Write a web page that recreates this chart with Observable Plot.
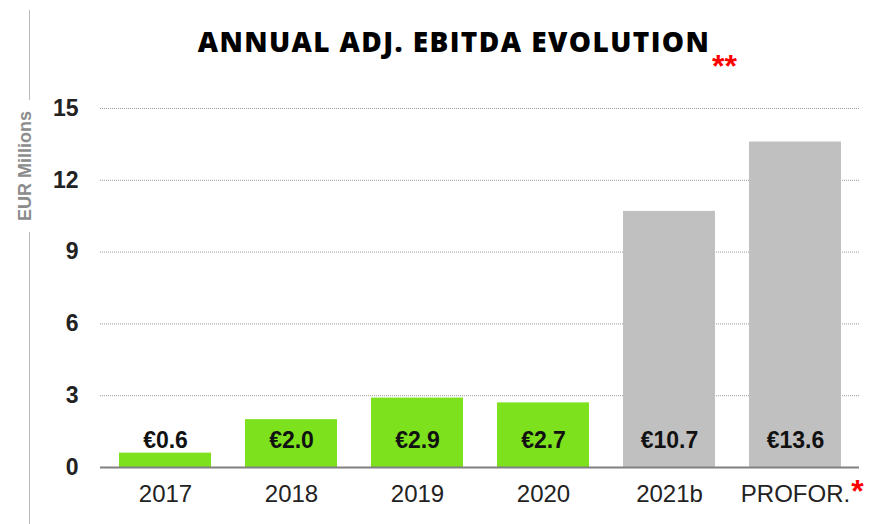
<!DOCTYPE html>
<html>
<head>
<meta charset="utf-8">
<script src="https://cdn.jsdelivr.net/npm/d3@7"></script>
<script src="https://cdn.jsdelivr.net/npm/@observablehq/plot@0.6"></script>
<style>
  html, body { margin: 0; padding: 0; background: #fff; }
  #wrap { position: relative; width: 880px; height: 524px; overflow: hidden; }
  #title { position: absolute; left: 0; width: 908px; top: 22px; text-align: center;
    font-family: "Open Sans", sans-serif; font-weight: 800; font-size: 28px; color: #000; letter-spacing: 1.4px; }
  #stars { position: absolute; left: 712px; top: 48px; color: #ff0000; font-family: "Liberation Sans", Arial, sans-serif;
    font-weight: bold; font-size: 32px; letter-spacing: 0px; }
  .vline { position: absolute; left: 29px; width: 1px; background: #bbb; }
  #ylab { position: absolute; left: 25px; top: 166px; transform: translate(-50%, -50%) rotate(-90deg);
    font-family: "Liberation Sans", Arial, sans-serif; font-weight: bold; font-size: 18px; color: #8c8c8c; white-space: nowrap; }
</style>
</head>
<body>
<div id="wrap">
  <div id="chart"></div>
  <div id="title">ANNUAL ADJ. EBITDA EVOLUTION</div>
  <div id="stars">**</div>
  <div class="vline" style="top:10px;height:90px"></div>
  <div class="vline" style="top:232px;height:292px"></div>
  <div id="ylab">EUR Millions</div>
</div>
<script>
const categories = ["2017", "2018", "2019", "2020", "2021b", "PROFOR."];
const values = [0.6, 2.0, 2.9, 2.7, 10.7, 13.6];
const kinds = ["actual", "actual", "actual", "actual", "budget", "proforma"];
const labels = ["€0.6", "€2.0", "€2.9", "€2.7", "€10.7", "€13.6"];
const yTicks = [0, 3, 6, 9, 12, 15];

const data = categories.map((c, i) => ({ cat: c, value: values[i], kind: kinds[i], label: labels[i] }));

const font = '"Liberation Sans", Arial, sans-serif';

const chart = Plot.plot({
  width: 880,
  height: 524,
  marginLeft: 100,
  marginRight: 21,
  marginTop: 108,
  marginBottom: 57,
  style: { fontFamily: font, background: "transparent" },
  x: { domain: categories, paddingInner: 0.27, paddingOuter: 0.135, label: null },
  y: { domain: [0, 15], ticks: yTicks, label: null },
  color: { domain: ["actual", "budget", "proforma"], range: ["#7de21d", "#c0c0c0", "#c0c0c0"] },
  marks: [
    Plot.ruleY(yTicks.filter(d => d > 0), { stroke: "#9a9a9a", strokeWidth: 1, strokeDasharray: "1,1" }),
    Plot.barY(data, { x: "cat", y: "value", fill: "kind" }),
    Plot.ruleY([0], { stroke: "#808080", strokeWidth: 2 }),
    Plot.text(data, { x: "cat", y: 0, dy: -27, text: "label", fontWeight: "bold", fontSize: 23, fill: "#111" }),
    Plot.axisY({ ticks: yTicks, tickSize: 0, tickPadding: 22, fontSize: 23, fontWeight: "bold", fill: "#222", label: null }),
    Plot.axisX({ tickSize: 0, tickPadding: 17, fontSize: 24, fill: "#222", label: null }),
    Plot.text(["PROFOR."], { x: d => d, y: 0, text: () => "*", fill: "#ff0000", fontWeight: "bold", fontSize: 32, dx: 62, dy: 24 })
  ]
});
document.getElementById("chart").appendChild(chart);
</script>
</body>
</html>
